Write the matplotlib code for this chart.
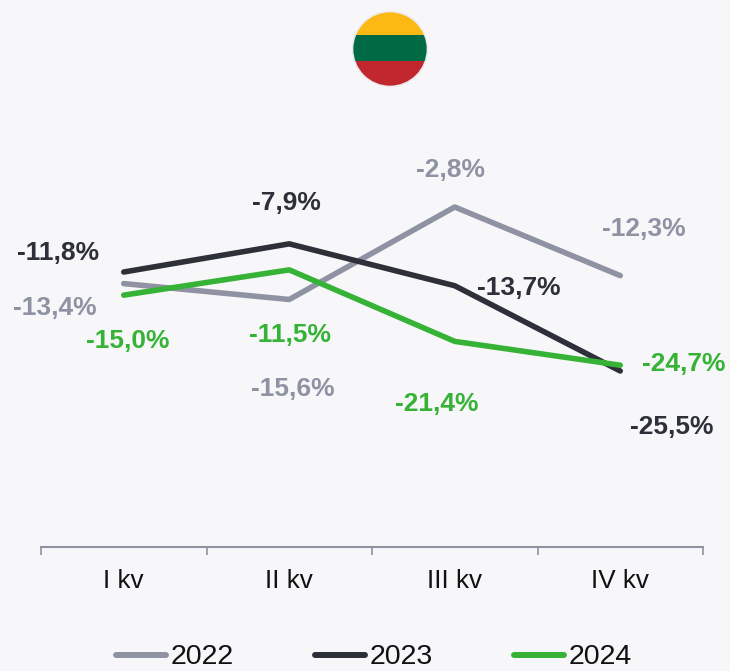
"""Lithuania: quarterly change by year, line chart with flag badge."""
import matplotlib
matplotlib.use("Agg")
import matplotlib.pyplot as plt
from matplotlib.patches import Circle, Rectangle

QUARTERS = ["I kv", "II kv", "III kv", "IV kv"]
YEARS = ["2022", "2023", "2024"]
VALUES_2022 = [-13.4, -15.6, -2.8, -12.3]
VALUES_2023 = [-11.8, -7.9, -13.7, -25.5]
VALUES_2024 = [-15.0, -11.5, -21.4, -24.7]
COLORS = ["#8e92a3", "#2e3039", "#36b336"]
AXIS_COLOR = "#8e92a3"
BG = "#f7f7fa"

# label offsets in pixels from the data point
OFFSETS_2022 = [(-69, -24), (4, -90), (-4, 37), (24, 47)]
OFFSETS_2023 = [(-66, 19), (-3, 41), (64, -2), (51, -56)]
OFFSETS_2024 = [(4, -46), (1, -65), (-18, -63), (63, 1)]

plt.rcParams["font.family"] = ["Liberation Sans", "DejaVu Sans"]

W, H = 730, 671
fig = plt.figure(figsize=(W / 100, H / 100), dpi=100, facecolor=BG)
ax = fig.add_axes([41 / W, 1 - 547 / H, (703 - 41) / W, (547 - 100) / H], facecolor=BG)

x = range(len(QUARTERS))
series = [VALUES_2022, VALUES_2023, VALUES_2024]
offsets = [OFFSETS_2022, OFFSETS_2023, OFFSETS_2024]
for year, vals, off, color in zip(YEARS, series, offsets, COLORS):
    ax.plot(x, vals, color=color, lw=4, label=year, solid_capstyle="round")
    for xi, v, o in zip(x, vals, off):
        ax.annotate(f"{v:.1f}%".replace(".", ","), (xi, v), xytext=(o[0] * 0.72, o[1] * 0.72),
                    textcoords="offset points", ha="center", va="center",
                    color=color, fontsize=19, fontweight="bold")

# y scale from pixels: -2.8 at y=207, -25.5 at y=371
px_per_unit = (371 - 207) / (25.5 - 2.8)
ax.set_ylim(-2.8 - (547 - 207) / px_per_unit, -2.8 + (207 - 100) / px_per_unit)
ax.set_xlim(-0.5, 3.5)

for s in ["top", "left", "right"]:
    ax.spines[s].set_visible(False)
ax.spines["bottom"].set_color(AXIS_COLOR)
ax.spines["bottom"].set_linewidth(1.5)
ax.set_yticks([])
ax.set_xticks([-0.5, 0.5, 1.5, 2.5, 3.5])
ax.set_xticklabels([])
ax.tick_params(axis="x", direction="out", length=6, width=1.2, color=AXIS_COLOR)
ax.set_xticks(list(x), minor=True)
ax.set_xticklabels(QUARTERS, minor=True, fontsize=18.8, color="#111111")
ax.tick_params(axis="x", which="minor", length=0, pad=16)

leg = fig.legend(loc="center", bbox_to_anchor=(374 / W, 1 - 657.5 / H), ncol=3, frameon=False,
                 fontsize=20.5, columnspacing=2.85, handlelength=1.75, handletextpad=0.17,
                 borderpad=0, labelcolor="#111111")
for line in leg.get_lines():
    line.set_linewidth(4.3)

# flag badge
flag = fig.add_axes([350 / W, 1 - 89 / H, 80 / W, 80 / H])
flag.set_xlim(350, 430)
flag.set_ylim(89, 9)
flag.axis("off")
clip = Circle((390, 49), 37.5, transform=flag.transData)
for y0, h, c in [(9, 26, "#fdb913"), (35, 26, "#006a44"), (61, 28, "#c1272d")]:
    r = Rectangle((350, y0), 80, h, color=c, lw=0)
    flag.add_patch(r)
    r.set_clip_path(clip)
flag.add_patch(Circle((390, 49), 37.5, fill=False, ec="#ececf0", lw=1.2))

fig.savefig("out.png", dpi=100, facecolor=BG)
